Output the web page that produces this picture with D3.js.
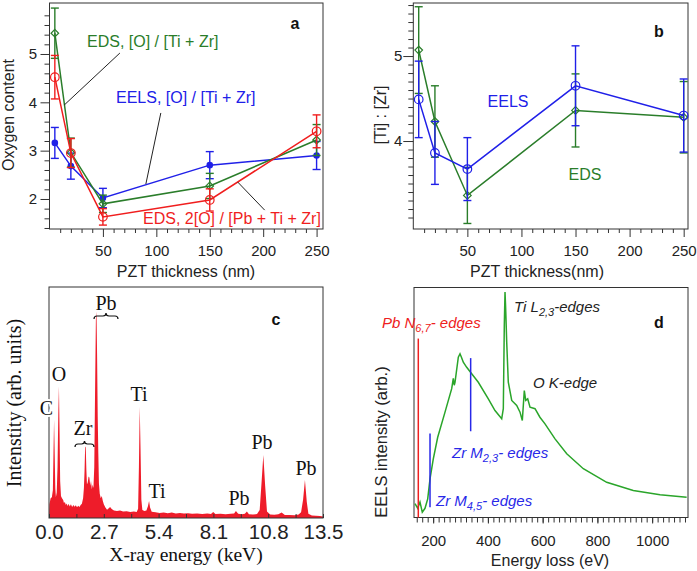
<!DOCTYPE html>
<html><head><meta charset="utf-8">
<script src="https://cdn.jsdelivr.net/npm/d3@7/dist/d3.min.js"></script>
<style>
body{margin:0;background:#fff}
svg{display:block}
text{font-family:"Liberation Sans",Arial,sans-serif}
.serif{font-family:"Liberation Serif","Times New Roman",serif}
</style>
</head><body>
<svg id="fig" width="697" height="571"></svg>
<script>
// ---------------- DATA ----------------
const thickness = [5, 20, 50, 150, 250];
// panel a : oxygen content
const edsO_TiZr      = [5.43, 2.96, 1.90, 2.27, 3.22];
const edsO_TiZrErr   = [0.52, 0.30, 0.18, 0.26, 0.32];
const eelsO_TiZr     = [3.16, 2.68, 2.02, 2.70, 2.90];
const eelsO_TiZrErr  = [0.32, 0.27, 0.20, 0.28, 0.29];
const edsO_PbTiZr    = [4.52, 2.95, 1.63, 1.98, 3.40];
const edsO_PbTiZrErr = [0.45, 0.30, 0.17, 0.23, 0.34];
// panel b : Ti : Zr
const eelsTiZr    = [4.49, 3.86, 3.67, 4.65, 4.30];
const eelsTiZrErr = [0.45, 0.37, 0.37, 0.47, 0.43];
const edsTiZr     = [5.07, 4.23, 3.36, 4.36, 4.28];
const edsTiZrErr  = [0.51, 0.42, 0.33, 0.43, 0.42];
const thickTicks = [50, 100, 150, 200, 250];
// panel c : EDS spectrum [keV, intensity]
const edsSpectrum = [
 [0.00,0],[0.02,6],[0.08,8.5],[0.14,9],[0.19,12],[0.22,28],[0.25,42.5],[0.28,28],[0.31,13],[0.34,9],[0.38,11],
 [0.42,22],[0.46,46],[0.49,57],[0.52,38],[0.55,16],[0.59,9.5],[0.64,8.5],[0.70,7.8],[0.74,6.4],[0.78,7.0],
 [0.83,5.6],[0.87,6.3],[0.92,5.2],[0.97,6.2],[1.02,5.0],[1.08,5.9],[1.14,4.8],[1.20,5.6],[1.26,4.9],[1.32,5.5],
 [1.38,4.7],[1.44,5.3],[1.50,4.8],[1.56,5.6],[1.62,6.2],[1.68,8.5],[1.72,13],[1.75,20],[1.78,30.5],[1.81,31],
 [1.84,21],[1.87,14.5],[1.91,15.5],[1.95,18],[1.99,17.5],[2.03,14],[2.07,16],[2.11,12.5],[2.15,14.5],[2.19,13],
 [2.23,22],[2.27,55],[2.31,86],[2.34,89.3],[2.37,70],[2.40,44],[2.43,28],[2.46,15],[2.50,10.5],[2.55,8.5],
 [2.60,9.5],[2.65,7.5],[2.70,6],[2.78,4.5],[2.86,3.6],[2.93,4.1],[3.01,4.8],[3.09,3.9],[3.20,3.3],[3.35,3.0],
 [3.50,3.2],[3.65,2.8],[3.83,2.9],[4.00,2.6],[4.18,2.8],[4.32,2.6],[4.39,4],[4.43,22],[4.47,48.2],[4.51,30],
 [4.55,8],[4.60,3.5],[4.70,3.0],[4.80,3.3],[4.87,5],[4.93,7.4],[4.98,4.5],[5.06,2.7],[5.25,2.5],[5.45,2.2],
 [5.65,2.4],[5.85,2.1],[6.05,2.4],[6.25,2.0],[6.45,2.2],[6.65,1.9],[6.85,2.1],[7.05,1.8],[7.30,2.0],[7.55,1.7],
 [7.80,1.9],[7.98,1.7],[8.09,2.6],[8.20,1.7],[8.45,1.8],[8.70,1.6],[8.95,1.8],[9.12,2.0],[9.21,3.0],[9.32,1.8],
 [9.50,1.6],[9.65,1.8],[9.75,2.8],[9.85,1.6],[10.05,1.5],[10.25,1.7],[10.38,3.5],[10.47,15],[10.56,27.3],
 [10.65,14],[10.74,2.8],[10.90,1.5],[11.10,1.4],[11.30,1.6],[11.46,2.4],[11.62,1.3],[11.85,1.3],[12.10,1.2],
 [12.30,1.5],[12.42,2.5],[12.52,8],[12.61,16.5],[12.70,7],[12.78,1.8],[12.95,1.1],[13.15,1.0],[13.35,0.9],[13.5,0.6],[13.5,0]
];
const keVTicks = [0, 2.7, 5.4, 8.1, 10.8, 13.5];
// panel d : EELS spectrum [eV, intensity]
const eelsSpectrum = [
 [133.7,6.0],[143.5,4.0],[151.9,6.7],[160.3,2.3],[170.2,4.0],[180.1,8.1],[188.5,16.8],[200.5,25.5],[216.6,34.9],
 [243.3,45.8],[267.7,56.0],[271,58.5],[273.6,60.5],[277,57.5],[279.8,58.8],[291.9,69.7],[298.1,71.2],[304,69.5],
 [310.1,67.5],[322.5,65.3],[340.8,62.5],[364.9,58.8],[401.5,51.6],[425.9,46.5],[450.4,42.9],[456.3,47.3],
 [459.9,83.5],[462.5,98.0],[464.5,92],[466.1,86.4],[468.7,76.2],[474.5,58.8],[487,50.9],[505.2,48.7],
 [517.3,45.8],[525.7,42.2],[533,55.2],[538.1,50.9],[545.4,51.6],[553.8,48.0],[572.1,47.3],[590,43.6],
 [608.6,40.7],[645.2,34.2],[688,27.7],[748.6,21.2],[834,15.3],[931,11.7],[1029,9.9],[1126,8.8]
];
const eVTicks = [200, 400, 600, 800, 1000];
// edge markers [eV, top, bottom]
const pbEdge = [[145.7, 77.8, 0]];
const zrEdges = [[188.5, 36.5, 4.5], [337, 69.3, 37.5]];

// ---------------- HELPERS ----------------
const svg = d3.select("#fig");
const FRAME = "#333";
function frame(x0, x1, y0, y1) {
  svg.append("rect").attr("x", x0).attr("y", y0).attr("width", x1 - x0).attr("height", y1 - y0)
    .attr("fill", "none").attr("stroke", FRAME).attr("stroke-width", 1);
}
function styleAxis(g, fs, fam) {
  g.select(".domain").remove();
  g.selectAll("line").attr("stroke", FRAME);
  g.selectAll("text").attr("font-size", fs).attr("fill", "#222").attr("font-family", fam || null);
}
function series(g, x, y, vals, errs, color, marker) {
  const pts = thickness.map((t, i) => ({t, v: vals[i], e: errs[i]}));
  g.append("path").datum(pts).attr("fill", "none").attr("stroke", color).attr("stroke-width", 1.5)
    .attr("d", d3.line().x(d => x(d.t)).y(d => y(d.v)));
  const eb = g.append("g").attr("stroke", color).attr("stroke-width", 1.4);
  pts.forEach(d => {
    eb.append("line").attr("x1", x(d.t)).attr("x2", x(d.t)).attr("y1", y(d.v - d.e)).attr("y2", y(d.v + d.e));
    [d.v - d.e, d.v + d.e].forEach(v => eb.append("line").attr("x1", x(d.t) - 4).attr("x2", x(d.t) + 4)
      .attr("y1", y(v)).attr("y2", y(v)));
  });
  pts.forEach(d => {
    const cx = x(d.t), cy = y(d.v);
    if (marker === "filled") g.append("circle").attr("cx", cx).attr("cy", cy).attr("r", 3.3).attr("fill", color);
    else if (marker === "circle") g.append("circle").attr("cx", cx).attr("cy", cy).attr("r", 4.3)
      .attr("fill", "none").attr("stroke", color).attr("stroke-width", 1.2);
    else g.append("path").attr("d", `M${cx},${cy-3.8}L${cx+3.8},${cy}L${cx},${cy+3.8}L${cx-3.8},${cy}Z`)
      .attr("fill", "none").attr("stroke", color).attr("stroke-width", 1.2);
  });
}
const GREEN = "#2a7d2a", BLUE = "#2020e8", RED = "#f01e1e";

// ---------------- PANEL A ----------------
{
  const x = d3.scaleLinear().domain([0, 256]).range([49.5, 323]);
  const y = d3.scaleLinear().domain([1.379, 6.055]).range([229, 3]);
  frame(49.5, 323, 3, 229);
  const minorX = d3.range(10, 256, 10).filter(v => v % 50 !== 0);
  styleAxis(svg.append("g").attr("transform", "translate(0,229)")
    .call(d3.axisBottom(x).tickValues(minorX).tickSize(4).tickFormat("")));
  styleAxis(svg.append("g").attr("transform", "translate(0,229)")
    .call(d3.axisBottom(x).tickValues(thickTicks).tickSize(8).tickPadding(8).tickFormat(d3.format("d"))), 15);
  const minorY = d3.range(1.4, 6.05, 0.2).filter(v => Math.abs(v - Math.round(v)) > 0.01);
  styleAxis(svg.append("g").attr("transform", "translate(49.5,0)")
    .call(d3.axisLeft(y).tickValues(minorY).tickSize(5).tickFormat("")));
  styleAxis(svg.append("g").attr("transform", "translate(49.5,0)")
    .call(d3.axisLeft(y).tickValues([2, 3, 4, 5]).tickSize(9).tickPadding(3.5).tickFormat(d3.format("d"))), 15);
  svg.append("text").attr("x", 186).attr("y", 277).attr("text-anchor", "middle").attr("font-size", 16)
    .attr("fill", "#222").text("PZT thickness (nm)");
  svg.append("text").attr("transform", "translate(14,115) rotate(-90)").attr("text-anchor", "middle")
    .attr("font-size", 16).attr("fill", "#222").text("Oxygen content");
  const g = svg.append("g");
  series(g, x, y, eelsO_TiZr, eelsO_TiZrErr, BLUE, "filled");
  series(g, x, y, edsO_TiZr, edsO_TiZrErr, GREEN, "diamond");
  series(g, x, y, edsO_PbTiZr, edsO_PbTiZrErr, RED, "circle");
  // leader lines (data coordinates)
  [[65.9, 5.02, 13.6, 3.94], [104.2, 3.78, 90.2, 2.31], [176.2, 2.35, 201.4, 1.77]].forEach(l =>
    svg.append("line").attr("x1", x(l[0])).attr("y1", y(l[1])).attr("x2", x(l[2])).attr("y2", y(l[3]))
      .attr("stroke", "#222").attr("stroke-width", 1));
  svg.append("text").attr("x", 87).attr("y", 46.5).attr("font-size", 16).attr("fill", GREEN).text("EDS, [O] / [Ti + Zr]");
  svg.append("text").attr("x", 116).attr("y", 102.6).attr("font-size", 16).attr("fill", BLUE).text("EELS, [O] / [Ti + Zr]");
  svg.append("text").attr("x", 143).attr("y", 224.3).attr("font-size", 16).attr("fill", RED).text("EDS, 2[O] / [Pb + Ti + Zr]");
  svg.append("text").attr("x", 295).attr("y", 28.5).attr("text-anchor", "middle").attr("font-size", 16)
    .attr("font-weight", "bold").attr("fill", "#111").text("a");
}

// ---------------- PANEL B ----------------
{
  const x = d3.scaleLinear().domain([0, 254]).range([413.3, 688]);
  const y = d3.scaleLinear().domain([2.965, 5.624]).range([229, 3]);
  frame(413.3, 688, 3, 229);
  const minorX = d3.range(10, 254, 10).filter(v => v % 50 !== 0);
  styleAxis(svg.append("g").attr("transform", "translate(0,229)")
    .call(d3.axisBottom(x).tickValues(minorX).tickSize(4).tickFormat("")));
  styleAxis(svg.append("g").attr("transform", "translate(0,229)")
    .call(d3.axisBottom(x).tickValues(thickTicks).tickSize(8).tickPadding(8).tickFormat(d3.format("d"))), 15);
  const minorY = d3.range(3.0, 5.62, 0.1).filter(v => Math.abs(v - Math.round(v)) > 0.01);
  styleAxis(svg.append("g").attr("transform", "translate(413.3,0)")
    .call(d3.axisLeft(y).tickValues(minorY).tickSize(5).tickFormat("")));
  styleAxis(svg.append("g").attr("transform", "translate(413.3,0)")
    .call(d3.axisLeft(y).tickValues([4, 5]).tickSize(10).tickPadding(1).tickFormat(d3.format("d"))), 15);
  svg.append("text").attr("x", 537).attr("y", 277).attr("text-anchor", "middle").attr("font-size", 16)
    .attr("fill", "#222").text("PZT thickness(nm)");
  svg.append("text").attr("transform", "translate(386,115) rotate(-90)").attr("text-anchor", "middle")
    .attr("font-size", 16).attr("fill", "#222").text("[Ti] : [Zr]");
  const g = svg.append("g");
  series(g, x, y, edsTiZr, edsTiZrErr, GREEN, "diamond");
  series(g, x, y, eelsTiZr, eelsTiZrErr, BLUE, "circle");
  svg.append("text").attr("x", 508).attr("y", 107.3).attr("text-anchor", "middle").attr("font-size", 16).attr("fill", BLUE).text("EELS");
  svg.append("text").attr("x", 585).attr("y", 180).attr("text-anchor", "middle").attr("font-size", 16).attr("fill", GREEN).text("EDS");
  svg.append("text").attr("x", 659).attr("y", 36.5).attr("text-anchor", "middle").attr("font-size", 16)
    .attr("font-weight", "bold").attr("fill", "#111").text("b");
}

// ---------------- PANEL C ----------------
{
  const x = d3.scaleLinear().domain([0, 13.5]).range([49, 323]);
  const y = d3.scaleLinear().domain([0, 100]).range([518, 287]);
  svg.append("path").datum(edsSpectrum).attr("fill", "#ee1c2a")
    .attr("d", d3.area().x(d => x(d[0])).y0(y(0)).y1(d => y(d[1])));
  frame(49, 323, 287, 518);
  styleAxis(svg.append("g").attr("transform", "translate(0,518)")
    .call(d3.axisBottom(x).tickValues(d3.range(0, 13.51, 1.35)).tickSize(-4).tickFormat("")));
  const ax = svg.append("g").attr("transform", "translate(0,518)")
    .call(d3.axisBottom(x).tickValues(keVTicks).tickSize(0).tickPadding(6).tickFormat(d3.format(".1f")));
  styleAxis(ax, 20.5, "Liberation Serif");
  svg.append("text").attr("class", "serif").attr("x", 186).attr("y", 561).attr("text-anchor", "middle")
    .attr("font-size", 19.5).attr("fill", "#111").text("X-ray energy (keV)");
  svg.append("text").attr("class", "serif").attr("transform", "translate(21,403) rotate(-90)").attr("text-anchor", "middle")
    .attr("font-size", 20).attr("fill", "#111").text("Intenstity (arb. units)");
  const lab = (t, cx, by, halo) => {
    const s = svg.append("text").attr("class", "serif").attr("x", cx).attr("y", by).attr("text-anchor", "middle")
      .attr("font-size", 20).attr("fill", "#111").text(t);
    if (halo) s.attr("stroke", "#fff").attr("stroke-width", 4).attr("paint-order", "stroke");
  };
  lab("C", 46.5, 414.5, true); lab("O", 59, 381); lab("Zr", 83, 434.5); lab("Pb", 106, 310);
  lab("Ti", 139, 400.5); lab("Ti", 157, 497.5); lab("Pb", 239, 504.5); lab("Pb", 262, 448.5); lab("Pb", 306, 474.5);
  const brace = (x0, x1, yy) => {
    const m = (x0 + x1) / 2;
    svg.append("path").attr("fill", "none").attr("stroke", "#111").attr("stroke-width", 1.2)
      .attr("d", `M${x0},${yy+3}Q${x0},${yy} ${x0+3},${yy}L${m-3},${yy}Q${m},${yy} ${m},${yy-3}Q${m},${yy} ${m+3},${yy}L${x1-3},${yy}Q${x1},${yy} ${x1},${yy+3}`);
  };
  brace(75, 94, 444); brace(94, 118, 316);
  svg.append("text").attr("x", 276).attr("y", 324.5).attr("text-anchor", "middle").attr("font-size", 16)
    .attr("font-weight", "bold").attr("fill", "#111").text("c");
}

// ---------------- PANEL D ----------------
{
  const x = d3.scaleLinear().domain([130, 1131]).range([414, 688]);
  const y = d3.scaleLinear().domain([0, 100]).range([517.5, 287.5]);
  frame(414, 688, 287.5, 517.5);
  styleAxis(svg.append("g").attr("transform", "translate(0,517.5)")
    .call(d3.axisBottom(x).tickValues(d3.range(140, 1131, 20)).tickSize(5).tickFormat("")));
  styleAxis(svg.append("g").attr("transform", "translate(0,517.5)")
    .call(d3.axisBottom(x).tickValues(eVTicks).tickSize(6).tickPadding(12).tickFormat(d3.format("d"))), 15);
  svg.append("text").attr("x", 550).attr("y", 566).attr("text-anchor", "middle").attr("font-size", 16)
    .attr("fill", "#222").text("Energy loss (eV)");
  svg.append("text").attr("transform", "translate(387,442) rotate(-90)").attr("text-anchor", "middle")
    .attr("font-size", 16.5).attr("fill", "#222").text("EELS intensity (arb.)");
  svg.append("path").datum(eelsSpectrum).attr("fill", "none").attr("stroke", "#2aa52a").attr("stroke-width", 1.5)
    .attr("d", d3.line().x(d => x(d[0])).y(d => y(d[1])));
  pbEdge.forEach(e => svg.append("line").attr("x1", x(e[0])).attr("x2", x(e[0])).attr("y1", y(e[1])).attr("y2", y(e[2]))
    .attr("stroke", "#ee2020").attr("stroke-width", 1.5));
  zrEdges.forEach(e => svg.append("line").attr("x1", x(e[0])).attr("x2", x(e[0])).attr("y1", y(e[1])).attr("y2", y(e[2]))
    .attr("stroke", "#2828e8").attr("stroke-width", 1.5));
  const it = (parts, x0, by, color) => {
    const t = svg.append("text").attr("x", x0).attr("y", by).attr("font-size", 15).attr("font-style", "italic").attr("fill", color);
    parts.forEach(p => {
      if (p.sub) t.append("tspan").attr("font-size", 11).attr("dy", 4).text(p.sub);
      else t.append("tspan").attr("dy", p.up ? -4 : 0).text(p.t);
    });
  };
  it([{t: "Pb N"}, {sub: "6,7"}, {t: "- edges", up: true}], 382, 328.3, "#ee2020");
  it([{t: "Ti L"}, {sub: "2,3"}, {t: "-edges", up: true}], 514, 311.7, "#222");
  it([{t: "O K-edge"}], 533, 388.3, "#222");
  it([{t: "Zr M"}, {sub: "2,3"}, {t: "- edges", up: true}], 452, 457.7, "#2828e8");
  it([{t: "Zr M"}, {sub: "4,5"}, {t: "- edges", up: true}], 436, 505.7, "#2828e8");
  svg.append("text").attr("x", 659).attr("y", 327.5).attr("text-anchor", "middle").attr("font-size", 16)
    .attr("font-weight", "bold").attr("fill", "#111").text("d");
}
</script>
</body></html>
